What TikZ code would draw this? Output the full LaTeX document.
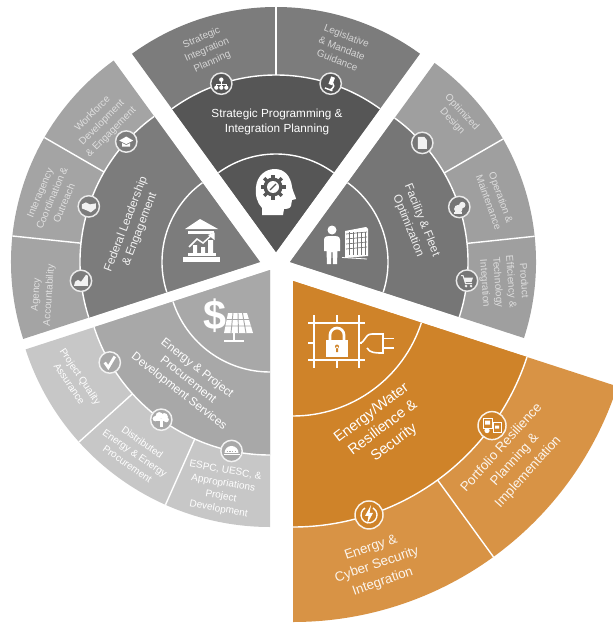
\documentclass[tikz,border=0pt]{standalone}
\usepackage{fontspec}
\setmainfont{Liberation Sans}
\usetikzlibrary{calc}
\definecolor{topD}{HTML}{565656}\definecolor{topL}{HTML}{7C7C7C}
\definecolor{facD}{HTML}{767676}\definecolor{facL}{HTML}{9F9F9F}
\definecolor{fedD}{HTML}{7C7C7C}\definecolor{fedL}{HTML}{A4A4A4}
\definecolor{proD}{HTML}{A8A8A8}\definecolor{proL}{HTML}{C7C7C7}
\definecolor{oraD}{HTML}{CF8329}\definecolor{oraL}{HTML}{D89345}
\tikzset{
  sep/.style={draw=white,line width=1.05pt},
  badge/.style={circle,draw=#1,line width=1.1pt,minimum size=16pt,inner sep=0pt},
  icl/.style={draw=white,fill=none,line width=.75pt},
  lab/.style={align=center,inner sep=0pt,text=white},
  mainlab/.style={lab,font=\fontsize{8.8}{11}\selectfont},
  sublab/.style={lab,font=\fontsize{7.5}{9.8}\selectfont},
}
% apex, start, end, outer radius, mid radius, inner radius, dark, light
\newcommand{\wheelsector}[8]{%
  \fill[#8] (#1) -- ++(#2:#4) arc[start angle=#2,end angle=#3,radius=#4] -- cycle;
  \fill[#7] (#1) -- ++(#2:#5) arc[start angle=#2,end angle=#3,radius=#5] -- cycle;
  \draw[sep] ($(#1)+(#2:#5)$) arc[start angle=#2,end angle=#3,radius=#5];
  \draw[sep] ($(#1)+(#2:#6)$) arc[start angle=#2,end angle=#3,radius=#6];
}
\newcommand{\splitline}[4]{\draw[sep] ($(#1)+(#2:#3)$) -- ($(#1)+(#2:#4)$);}
\begin{document}
\begin{tikzpicture}[x=0.75pt,y=-0.75pt]
\useasboundingbox (0,0) rectangle (613,624);
\coordinate (topA) at (276,252);
\coordinate (facA) at (290,262);
\coordinate (fedA) at (260,262);
\coordinate (proA) at (270,270);
\coordinate (oraA) at (293,281);
\wheelsector{topA}{234}{306}{245}{177}{98}{topD}{topL}
\splitline{topA}{270}{177}{245}
\wheelsector{facA}{306}{378}{246}{178}{98}{facD}{facL}
\splitline{facA}{330}{178}{246}
\splitline{facA}{354}{178}{246}
\wheelsector{fedA}{162}{234}{249}{180}{98}{fedD}{fedL}
\splitline{fedA}{186}{180}{249}
\splitline{fedA}{210}{180}{249}
\wheelsector{proA}{90}{162}{257}{185}{102}{proD}{proL}
\splitline{proA}{114}{185}{257}
\splitline{proA}{138}{185}{257}
\wheelsector{oraA}{18}{90}{341}{246}{135}{oraD}{oraL}
\splitline{oraA}{54}{246}{341}
% badges
\node[badge=white!85!topD,fill=topD] (b1) at ([shift={(252:177)}]topA) {};
\node[badge=white!85!topD,fill=topD] (b2) at ([shift={(288:177)}]topA) {};
\node[badge=white!85!facD,fill=facD] (b3) at ([shift={(318:178)}]facA) {};
\node[badge=white!85!facD,fill=facD] (b4) at ([shift={(342:178)}]facA) {};
\node[badge=white!85!facD,fill=facD] (b5) at ([shift={(366:178)}]facA) {};
\node[badge=white!85!fedD,fill=fedD] (b6) at ([shift={(222:180)}]fedA) {};
\node[badge=white!85!fedD,fill=fedD] (b7) at ([shift={(198:180)}]fedA) {};
\node[badge=white!85!fedD,fill=fedD] (b8) at ([shift={(174:180)}]fedA) {};
\node[badge=white!85!proD,fill=proD] (b9) at ([shift={(150:185)}]proA) {};
\node[badge=white!85!proD,fill=proD] (b10) at ([shift={(126:185)}]proA) {};
\node[badge=white!85!proD,fill=proD] (b11) at ([shift={(102:185)}]proA) {};
\node[badge=white!90!oraD,fill=oraD,minimum size=21pt] (b12) at ([shift={(36:246)}]oraA) {};
\node[badge=white!90!oraD,fill=oraD,minimum size=21pt] (b13) at ([shift={(72:246)}]oraA) {};
% badge glyphs
\begin{scope}[shift={(b1.center)}]% org chart
  \draw[white,line width=.6pt] (0,-4)--(0,3) (-5,4)--(-5,1)--(5,1)--(5,4);
  \fill[white] (0,-4) circle (2.2) (-5,4) circle (2.1) (0,4) circle (2.1) (5,4) circle (2.1);
\end{scope}
\begin{scope}[shift={(b2.center)},rotate=-20]% microscope
  \fill[white] (-2,-7) rectangle (2,1);
  \draw[white,line width=1.1pt] (-4,6)--(4,6) (2,-1) arc (-60:60:3.5);
\end{scope}
\begin{scope}[shift={(b3.center)}]% page
  \fill[white!90!facD] (-4.5,-6)--(2,-6)--(4.5,-3)--(4.5,6)--(-4.5,6)--cycle;
\end{scope}
\begin{scope}[shift={(b4.center)}]% gear and person
  \fill[white!90!facD] (-1,2) circle (4.2) (3,-2) circle (3.2);
  \fill[white!90!facD] (-5,5) rectangle (3,7);
\end{scope}
\begin{scope}[shift={(b5.center)}]% cart
  \draw[white!90!facD,line width=.75pt] (-6,-5)--(-4,-5)--(-1.5,3)--(5,3);
  \fill[white!90!facD] (-3.5,-3)--(6,-3)--(4.5,1.5)--(-2,1.5)--cycle;
  \fill[white!90!facD] (-1,5.5) circle (1.4) (4,5.5) circle (1.4);
\end{scope}
\begin{scope}[shift={(b6.center)}]% cap
  \fill[white] (-7,-1)--(0,-5)--(7,-1)--(0,2.5)--cycle;
  \fill[white] (-4,1.5)--(0,3.5)--(4,1.5)--(4,5)--(-4,5)--cycle;
\end{scope}
\begin{scope}[shift={(b7.center)}]% handshake
  \fill[white!90!fedD] (-7,-2)--(-3,-4)--(1,-2)--(7,-3)--(7,2)--(2,6)--(-2,4)--(-7,2)--cycle;
\end{scope}
\begin{scope}[shift={(b8.center)}]% mountain chart
  \fill[white!90!fedD] (-7,5)--(-6,1)--(-3,-1)--(0,1)--(5,-6)--(7,-5)--(7,5)--cycle;
\end{scope}
\begin{scope}[shift={(b9.center)}]% check
  \draw[white,line width=2.1pt] (-5,0)--(-1.5,5)--(5,-6);
\end{scope}
\begin{scope}[shift={(b10.center)}]% tree
  \fill[white] (-6,-1) circle (2.6) (-2,-4) circle (3.6) (3,-3) circle (3.6) (5,0) circle (2.6);
  \fill[white] (-7,-1) rectangle (7,1);
  \fill[white] (-1,0) rectangle (1.5,7);
\end{scope}
\begin{scope}[shift={(b11.center)}]% dome
  \fill[white] (-7,2) arc (180:360:7) -- cycle;
  \draw[proD,line width=.6pt,dash pattern=on 1pt off 1pt] (-5,0)--(5,0);
  \draw[white,line width=.7pt] (-8,4)--(8,4);
\end{scope}
\begin{scope}[shift={(b12.center)}]% portfolio
  \draw[icl] (-9,-7) rectangle (0,3);
  \draw[icl] (1,-3) rectangle (9,7);
  \fill[white] (-7,-5) rectangle (-2,-1) (3,0) rectangle (7,3);
  \fill[white] (-5,5) circle (2.6);
\end{scope}
\begin{scope}[shift={(b13.center)}]% bolt
  \draw[white,line width=1pt] (-4,-7) arc (240:-60:8);
  \fill[white] (2,-10)--(-4,1)--(-.5,1)--(-2,9)--(4,-2)--(.5,-2)--cycle;
\end{scope}
% head icon
\fill[white] (262,215) -- (262,208) .. controls (257,203) and (255,195) .. (256,187)
  .. controls (257,176) and (265,169) .. (275,169)
  .. controls (285,169) and (291,177) .. (292,187)
  .. controls (293,192) and (296,197) .. (296,199)
  -- (292,200) -- (291,206) .. controls (290,209) and (286,209) .. (284,209) -- (283,215) -- cycle;
\foreach \a in {0,45,...,315}{\fill[topD,rotate around={\a:(273,187)}] (271.3,174.5) rectangle (274.7,179);}
\fill[topD] (273,187) circle (9.5);
\fill[white] (273,187) circle (6);
\draw[topD,line width=.9pt] (270,190)--(276,184);
% person + building
\fill[white] (332,230) circle (4.5);
\fill[white] (324,240) .. controls (324,236) and (327,236) .. (332,236) .. controls (337,236) and (340,236) .. (340,240)
  -- (340,251) -- (337.5,251) -- (337,264) -- (333,264) -- (332.5,252) -- (331.5,252) -- (331,264) -- (327,264) -- (326.5,251) -- (324,251) -- cycle;
\fill[white] (345,231) -- (366,227) -- (368,229) -- (368,256) -- (345,258) -- cycle;
\foreach \x in {349,353,357,361,365}{\draw[facD,line width=.5pt] (\x,232)--(\x,255);}
\foreach \y in {234,239,244,249}{\draw[facD,line width=.5pt] (346,\y)--(367,\y-2);}
\draw[white,line width=.6pt] (342,257.5)--(367,259);
% federal icon
\fill[white] (185,229) -- (200,219) -- (218,229) -- cycle;
\fill[white] (188,231) rectangle (214,233.5);
\fill[white] (183,257) rectangle (220,262);
\fill[white] (188,253) rectangle (216,256);
\fill[white] (193,245) rectangle (197,253) (201,247) rectangle (205,253) (208,240) rectangle (213,253);
\draw[fedD,line width=1.6pt] (189,247) -- (197,239) -- (203,243) -- (213,234);
\draw[white,line width=1.1pt] (189,247) -- (197,239) -- (203,243) -- (213,234);
\fill[white] (208,235) -- (214.5,232.5)-- (214.5,240)-- cycle;
% dollar + panel
\fill[white] (228,313) -- (247,313) -- (253,333) -- (224,333) -- cycle;
\draw[proD,line width=.7pt] (233,313)--(231,333) (238,313)--(238.5,333) (242.5,313)--(246,333) (226.5,319.5)--(249,319.5) (225,326)--(251,326);
\draw[white,line width=1.4pt] (234,333)--(234,341) (224,341)--(244,341);
\node[inner sep=0pt,text=white,font=\bfseries\fontsize{31}{31}\selectfont] (dollar) at (215,316) {\$};
% orange icon
\draw[white,line width=1.2pt] (308,323)--(365,323) (308,360)--(365,360) (308,343)--(314,343) (359,343)--(362,343)
  (314,315)--(314,368) (337,315)--(337,323) (337,360)--(337,368) (359,315)--(359,368);
\fill[white] (326,340) rectangle (348,357);
\draw[white,line width=2pt] (330,340) -- (330,335) arc (180:360:7) -- (344,340);
\fill[oraD] (337,346.5) circle (2) (336,346.5) rectangle (338,352);
\draw[white,line width=1.2pt] (359,343) .. controls (366,343) and (364,334) .. (372,334) -- (383,334);
\draw[white,line width=1.2pt] (367,348) .. controls (370,353) and (375,353) .. (383,353);
\draw[white,line width=1.4pt] (383,333)--(383,354) (383,338.5)--(394,338.5) (383,348)--(394,348);
% labels
\node[mainlab] (tTop) at (277,122) {Strategic Programming \&\\Integration Planning};
\node[sublab,text=white!68!topL,rotate=24] (s1) at (207,50) {Strategic\\Integration\\Planning};
\node[sublab,text=white!68!topL,rotate=-21] (s2) at (342,48) {Legislative\\\& Mandate\\Guidance};
\node[mainlab,rotate=-68,text=white!90!facD] (tFac) at (415,223) {Facility \& Fleet\\Optimization};
\node[sublab,text=white!65!facL,rotate=-47] (s3) at (457,117) {Optimized\\Design};
\node[sublab,text=white!65!facL,rotate=-70] (s4) at (495,200) {Operation \&\\Maintenance};
\node[sublab,text=white!65!facL,rotate=-86] (s5) at (504,282) {Product\\Efficiency \&\\Technology\\Integration};
\node[mainlab,rotate=69,text=white!90!fedD] (tFed) at (133,227) {Federal Leadership\\\& Engagement};
\node[sublab,text=white!65!fedL,rotate=86] (s6) at (43,295) {Agency\\Accountability};
\node[sublab,text=white!65!fedL,rotate=67] (s7) at (52,198) {Interagency\\Coordination \&\\Outreach};
\node[sublab,text=white!65!fedL,rotate=45] (s8) at (102,123) {Workforce\\Development\\\& Engagement};
\node[mainlab,rotate=-38] (tPro) at (188,380) {Energy \& Project\\Procurement\\Development Services};
\node[sublab,rotate=-56] (s9) at (75,380) {Project Quality\\Assurance};
\node[sublab,rotate=-35] (s10) at (135,453) {Distributed\\Energy \& Energy\\Procurement};
\node[sublab,rotate=-10] (s11) at (222,490) {ESPC, UESC, \&\\Appropriations\\Project\\Development};
\node[lab,rotate=37,font=\fontsize{11}{14}\selectfont] (tOra) at (383,428) {Energy/Water\\Resilience \&\\Security};
\node[lab,rotate=48,font=\fontsize{10}{13.5}\selectfont,text=white!90!oraL] (s12) at (515,460) {Portfolio Resilience\\Planning \&\\Implementation};
\node[lab,rotate=19,font=\fontsize{10}{13.5}\selectfont,text=white!90!oraL] (s13) at (377,565) {Energy \&\\Cyber Security\\Integration};
\end{tikzpicture}
\end{document}
